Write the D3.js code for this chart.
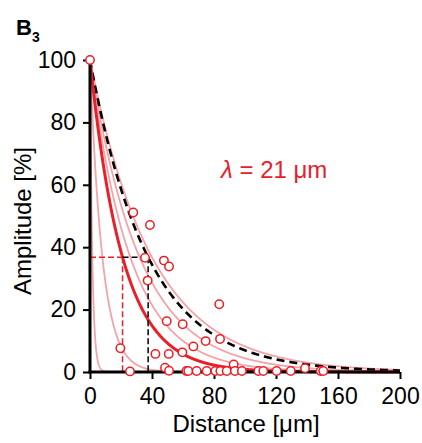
<!DOCTYPE html>
<html>
<head>
<meta charset="utf-8">
<script src="https://cdn.jsdelivr.net/npm/d3@7"></script>
<style>
  body { margin: 0; background: #fff; }
  svg { display: block; font-family: "Liberation Sans", Arial, sans-serif; }
</style>
</head>
<body>
<svg class="chart"></svg>
<script>
// axis ticks
var xTicks = [0, 40, 80, 120, 160, 200];
var yTicks = [0, 20, 40, 60, 80, 100];
var xMinor = d3.range(0, 201, 10);
var yMinor = d3.range(0, 101, 10);

// length constants of the fitted exponentials (um)
var pinkLambdas = [1.5, 8, 26, 32, 40];
var meanLambda = 21;
var blackLambda = 37.5;

// measured amplitudes
var distX = [0, 27.9, 38.7, 35.5, 47.7, 51, 37.2, 83.4, 49.5, 59.8, 19.6, 83.9, 74.6, 66.7,
             42.2, 50.8, 59.6, 25.8, 48.4, 51, 92.7,
             62.2, 63.4, 68.8, 75.3, 80.9, 84.1, 88.2, 93.5, 98, 108.6, 111.8, 120.4, 129.5,
             138.7, 148.8, 150.5];
var ampY = [100, 51.1, 47.1, 36.6, 35.7, 33.8, 29.3, 21.7, 16.3, 15.3, 7.6, 10.6, 9.9, 8.2,
            5.8, 5.8, 6.3, 0.2, 1.4, 0.4, 2.4,
            0.3, 0.3, 0.3, 0.3, 0.3, 0.3, 0.3, 0.3, 0.3, 0.3, 0.3, 0.3, 0.3,
            1.2, 0.3, 0.3];

var w = 422, h = 443;
var red = "#e8202a", pink = "#f4a3a8";

var x = d3.scaleLinear().domain([0, 200]).range([90, 400]);
var y = d3.scaleLinear().domain([0, 100]).range([372, 60]);

var svg = d3.select(".chart").attr("width", w).attr("height", h);

var decay = function(lam) {
  return d3.range(0, 200.01, 0.25).map(d => [d, 100 * Math.exp(-d / lam)]);
};
var line = d3.line().x(d => x(d[0])).y(d => y(d[1]));

// pink individual fits
svg.append("g").selectAll("path")
   .data(pinkLambdas)
   .enter().append("path")
   .attr("d", d => line(decay(d)))
   .attr("fill", "none")
   .attr("stroke", pink)
   .attr("stroke-width", 1.8);

// black dashed
svg.append("path")
   .attr("d", line(decay(blackLambda)))
   .attr("fill", "none")
   .attr("stroke", "#000")
   .attr("stroke-width", 2.6)
   .attr("stroke-dasharray", "8,5");

// mean fit
svg.append("path")
   .attr("d", line(decay(meanLambda)))
   .attr("fill", "none")
   .attr("stroke", red)
   .attr("stroke-width", 3);

// 1/e guides
var e37 = 100 / Math.E;
var guide = function(x1, x2, y1, y2, col) {
  svg.append("line")
     .attr("x1", x(x1)).attr("x2", x(x2))
     .attr("y1", y(y1)).attr("y2", y(y2))
     .attr("stroke", col).attr("stroke-width", 1.5).attr("stroke-dasharray", "6,3");
};
guide(0, meanLambda, e37, e37, red);
guide(meanLambda, meanLambda, e37, 0, red);
guide(meanLambda, blackLambda, e37, e37, "#000");
guide(blackLambda, blackLambda, e37, 0, "#000");

// axes
var gx = svg.append("g").attr("transform", "translate(0," + y(0) + ")");
gx.call(d3.axisBottom(x).tickValues(xMinor).tickSize(4).tickFormat(""));
gx.call(d3.axisBottom(x).tickValues(xTicks).tickSize(7).tickPadding(9));
var gy = svg.append("g").attr("transform", "translate(" + x(0) + ",0)");
gy.call(d3.axisLeft(y).tickValues(yMinor).tickSize(4).tickFormat(""));
gy.call(d3.axisLeft(y).tickValues(yTicks).tickSize(7).tickPadding(7));

gx.selectAll(".domain").remove();
gy.selectAll(".domain").remove();
svg.append("line").attr("x1", x(0) - 1.5).attr("x2", x(200)).attr("y1", y(0)).attr("y2", y(0))
   .attr("stroke", "#000").attr("stroke-width", 3);
svg.append("line").attr("x1", x(0)).attr("x2", x(0)).attr("y1", y(100)).attr("y2", y(0) + 1.5)
   .attr("stroke", "#000").attr("stroke-width", 3);
svg.selectAll(".tick line").attr("stroke", "#000").attr("stroke-width", 2);
svg.selectAll(".tick text").attr("font-size", 23).attr("fill", "#000")
   .attr("font-family", "Liberation Sans, Arial, sans-serif");

// data points
svg.append("g").selectAll("circle")
   .data(distX)
   .enter().append("circle")
   .attr("cx", d => x(d))
   .attr("cy", (d, i) => y(ampY[i]))
   .attr("r", 4.2)
   .attr("fill", "#fff")
   .attr("stroke", "#ee1c25")
   .attr("stroke-width", 1.5);

// labels
svg.append("text")
   .attr("x", 246).attr("y", 432)
   .attr("text-anchor", "middle")
   .attr("font-size", 24)
   .text("Distance [μm]");

svg.append("text")
   .attr("transform", "translate(31,221) rotate(-90)")
   .attr("text-anchor", "middle")
   .attr("font-size", 24)
   .text("Amplitude [%]");

var lt = svg.append("text")
   .attr("x", 221).attr("y", 178)
   .attr("font-size", 24)
   .attr("fill", red);
lt.append("tspan").attr("font-style", "italic").text("λ");
lt.append("tspan").text(" = 21 μm");

var bt = svg.append("text").attr("x", 16).attr("y", 35).attr("font-weight", "bold").attr("font-size", 22);
bt.append("tspan").text("B");
bt.append("tspan").attr("font-size", 14).attr("dy", 7).text("3");
</script>
</body>
</html>
